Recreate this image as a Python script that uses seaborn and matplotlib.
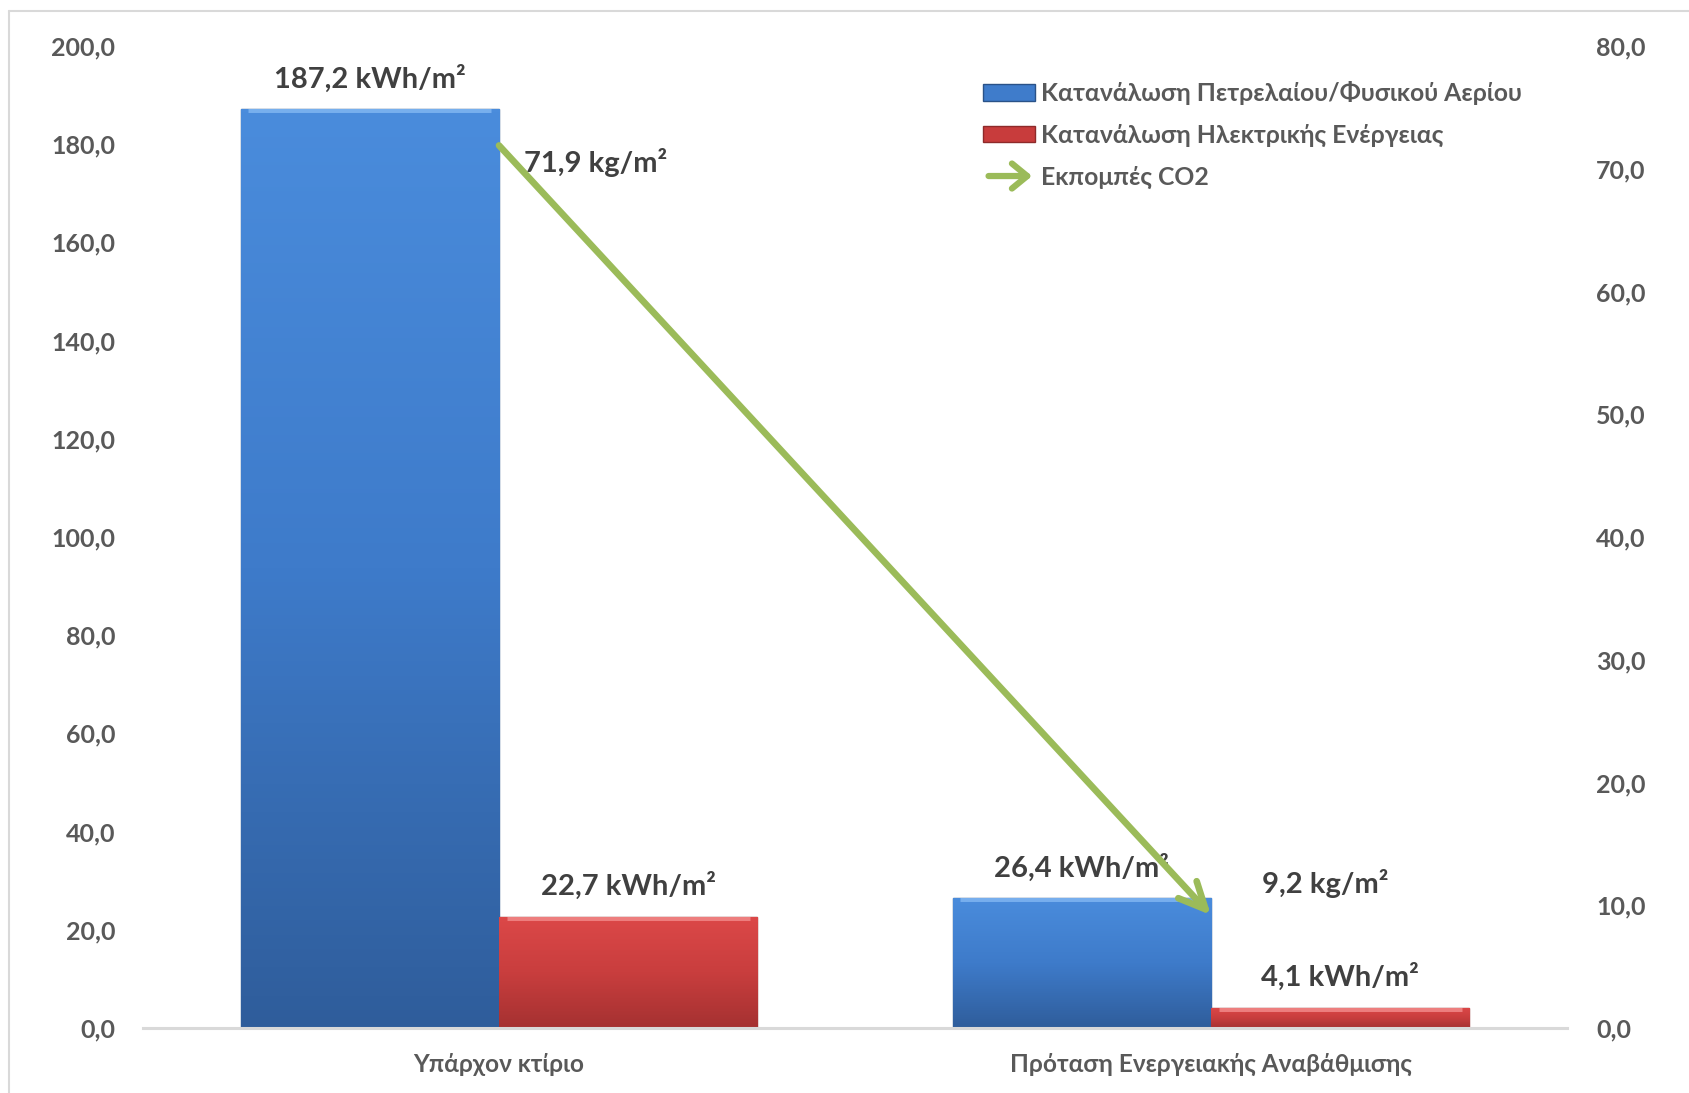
import numpy as np
import pandas as pd
import matplotlib
matplotlib.use("Agg")
import matplotlib.pyplot as plt
import seaborn as sns
from matplotlib.patches import Patch, FancyArrowPatch
from matplotlib.legend_handler import HandlerPatch
from matplotlib.colors import LinearSegmentedColormap
from matplotlib.lines import Line2D

# ---------------- data ----------------
categories = ["Υπάρχον κτίριο", "Πρόταση Ενεργειακής Αναβάθμισης"]
series_names = ["Κατανάλωση Πετρελαίου/Φυσικού Αερίου",
                "Κατανάλωση Ηλεκτρικής Ενέργειας"]
fuel_kwh = [187.2, 26.4]
elec_kwh = [22.7, 4.1]
co2_name = "Εκπομπές CO2"
co2_kg = [71.9, 9.2]
left_ticks = [0, 20, 40, 60, 80, 100, 120, 140, 160, 180, 200]
right_ticks = [0, 10, 20, 30, 40, 50, 60, 70, 80]

# ---------------- style ----------------
sns.set_theme(style="white")
plt.rcParams["font.family"] = ["Lato", "DejaVu Sans"]
TXT = "#595959"
LBL = "#404040"
BLUE = "#3F7CCB"
RED = "#C83C3C"
GREEN = "#9BBB59"

df = pd.DataFrame({
    "cat": categories * 2,
    "series": [series_names[0]] * 2 + [series_names[1]] * 2,
    "value": fuel_kwh + elec_kwh,
})

fig = plt.figure(figsize=(16.89, 10.93), dpi=100)
ax = fig.add_axes([0.0847, 0.0595, 0.843, 0.8984])

sns.barplot(data=df, x="cat", y="value", hue="series", order=categories,
            hue_order=series_names, palette=[BLUE, RED], width=0.726,
            saturation=1, legend=False, ax=ax, zorder=2)

ax.set_xlim(-0.5, 1.5)
ax.set_ylim(0, 200)

# gradient fill for bars
grads = {
    0: LinearSegmentedColormap.from_list("b", ["#4A8CDC", "#3E7BCA", "#2F5D9B"]),
    1: LinearSegmentedColormap.from_list("r", ["#DC4848", "#C93E3E", "#A53131"]),
}
edges = {0: "#2A5288", 1: "#8E2A2A"}
highlights = {0: "#7DB3F0", 1: "#F08585"}
bars = [p for p in ax.patches if p.get_height() > 0]
for i, p in enumerate(bars):
    s = i // 2
    x0, w, h = p.get_x(), p.get_width(), p.get_height()
    p.set_edgecolor(edges[s])
    p.set_linewidth(1.0)
    grad = np.linspace(0, 1, 256).reshape(-1, 1)
    im = ax.imshow(grad, cmap=grads[s], extent=[x0, x0 + w, 0, h],
                   aspect="auto", origin="upper", zorder=2.1)
    im.set_clip_path(p)
    # bevel highlight along the top edge
    ln = ax.plot([x0 + w * 0.03, x0 + w * 0.97], [h, h], color=highlights[s],
                 lw=5, solid_capstyle="butt", zorder=2.2, alpha=0.9)[0]
    ln.set_clip_path(p)
ax.set_xlim(-0.5, 1.5)
ax.set_ylim(0, 200)

# data labels for bars
for i, p in enumerate(bars):
    v = p.get_height()
    ax.annotate(f"{v:.1f}".replace(".", ",") + " kWh/m²",
                xy=(p.get_x() + p.get_width() / 2, v), xytext=(0, 22),
                textcoords="offset points", ha="center", va="center",
                fontsize=21, fontweight="bold", color=LBL, zorder=5)

# axes styling
for sp in ["top", "left", "right"]:
    ax.spines[sp].set_visible(False)
ax.spines["bottom"].set_color("#D9D9D9")
ax.spines["bottom"].set_linewidth(2.2)
ax.set_yticks(left_ticks)
ax.set_yticklabels([f"{v:.1f}".replace(".", ",") for v in left_ticks])
ax.tick_params(axis="y", length=0, pad=20, labelsize=18, labelcolor=TXT)
ax.tick_params(axis="x", length=0, pad=18, labelsize=17.6, labelcolor=TXT)
for t in ax.get_yticklabels():
    t.set_fontweight("bold")
for t in ax.get_xticklabels():
    t.set_fontweight("bold")
ax.set_xlabel("")
ax.set_ylabel("")
ax.grid(False)

# secondary axis for CO2
ax2 = ax.twinx()
ax2.set_ylim(0, 80)
ax2.set_yticks(right_ticks)
ax2.set_yticklabels([f"{v:.1f}".replace(".", ",") for v in right_ticks])
ax2.tick_params(axis="y", length=0, pad=21, labelsize=18, labelcolor=TXT)
for t in ax2.get_yticklabels():
    t.set_fontweight("bold")
for sp in ax2.spines.values():
    sp.set_visible(False)
ax2.grid(False)

xs = [0, 1]
ax2.annotate("", xy=(xs[1], co2_kg[1]), xytext=(xs[0], co2_kg[0]),
             arrowprops=dict(arrowstyle="->,head_length=1.6,head_width=0.75",
                             lw=4.8, color=GREEN, shrinkA=0, shrinkB=0,
                             capstyle="round", joinstyle="round"),
             zorder=6)
ax2.annotate(f"{co2_kg[0]:.1f}".replace(".", ",") + " kg/m²",
             xy=(xs[0], co2_kg[0]), xytext=(18, -12), textcoords="offset points",
             ha="left", va="center", fontsize=21, fontweight="bold", color=LBL)
ax2.annotate(f"{co2_kg[1]:.1f}".replace(".", ",") + " kg/m²",
             xy=(xs[1], co2_kg[1]), xytext=(37, 23), textcoords="offset points",
             ha="left", va="center", fontsize=21, fontweight="bold", color=LBL)


class HandlerArrow(HandlerPatch):
    def create_artists(self, legend, orig_handle, xdescent, ydescent,
                       width, height, fontsize, trans):
        y = height / 2 - ydescent
        a = FancyArrowPatch((-xdescent + 2, y), (-xdescent + width, y),
                            arrowstyle="->,head_length=0.55,head_width=0.45",
                            mutation_scale=20, lw=4.5, color=GREEN,
                            capstyle="round", joinstyle="round")
        a.set_transform(trans)
        return [a]


arrow_handle = Patch(facecolor=GREEN, label=co2_name)
handles = [Patch(facecolor=BLUE, edgecolor=edges[0], label=series_names[0]),
           Patch(facecolor=RED, edgecolor=edges[1], label=series_names[1]),
           arrow_handle]
leg = fig.legend(handles=handles, loc="upper left",
                 bbox_to_anchor=(983 / 1689, 1 - 81 / 1093),
                 frameon=False, fontsize=17.8, labelcolor=TXT,
                 handlelength=2.1, handleheight=0.65, handletextpad=0.25,
                 labelspacing=0.76, borderpad=0, borderaxespad=0,
                 handler_map={arrow_handle: HandlerArrow()})
for t in leg.get_texts():
    t.set_fontweight("bold")

# outer frame (top & left lines visible)
fig.add_artist(Line2D([9 / 1689, 9 / 1689], [0, 1 - 11 / 1093],
                      transform=fig.transFigure, color="#D9D9D9", lw=1.5))
fig.add_artist(Line2D([9 / 1689, 1], [1 - 11 / 1093, 1 - 11 / 1093],
                      transform=fig.transFigure, color="#D9D9D9", lw=1.5))

fig.savefig("out.png", dpi=100)
